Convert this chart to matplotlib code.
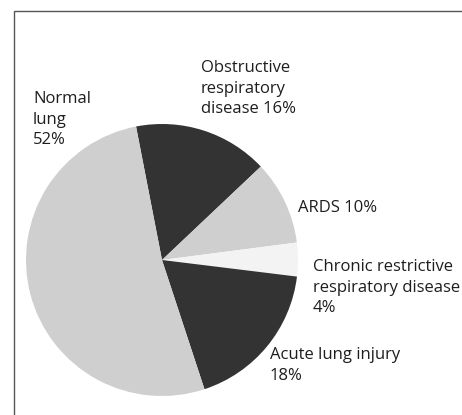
import matplotlib.pyplot as plt
from matplotlib.patches import Rectangle

# data, clockwise from the top
labels = ["Obstructive\nrespiratory\ndisease 16%", "ARDS 10%",
          "Chronic restrictive\nrespiratory disease\n4%",
          "Acute lung injury\n18%", "Normal\nlung\n52%"]
values = [16, 10, 4, 18, 52]
colors = ["#333333", "#cfcfcf", "#f3f3f3", "#333333", "#cfcfcf"]

# label anchor (left, top) in pixels from the top-left corner
label_pos = [(201, 60), (298, 200), (313, 259), (270, 347), (33, 91)]

plt.rcParams['font.family'] = ['Open Sans', 'DejaVu Sans']

W, H = 462, 415
fig = plt.figure(figsize=(W / 100, H / 100), dpi=100)
ax = fig.add_axes([0, 0, 1, 1])

# frame (only top and left sides show in the picture)
ax.add_patch(Rectangle((13.5, -5), W, H - 11.5 + 5, fill=False,
                       edgecolor="#555555", linewidth=1.0))

ax.pie(values, colors=colors, startangle=101, counterclock=False,
       center=(162, H - 260), radius=136, frame=True,
       wedgeprops=dict(linewidth=0))
ax.set_xlim(0, W)
ax.set_ylim(0, H)
ax.set_aspect('equal')
ax.axis('off')

for lab, (x, y) in zip(labels, label_pos):
    ax.text(x, H - y, lab, ha='left', va='top', fontsize=12,
            color="#1e1e1e", linespacing=1.38)

fig.savefig("out.png", dpi=100)
